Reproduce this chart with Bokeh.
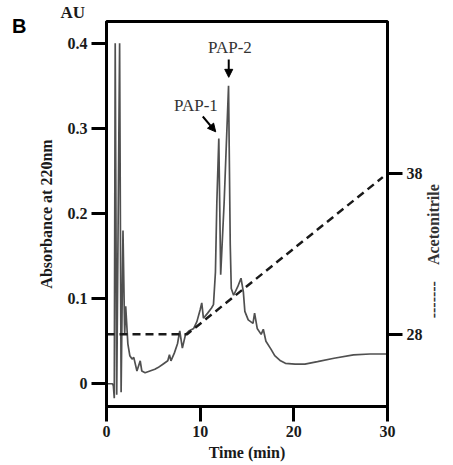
import math
from bokeh.plotting import figure
from bokeh.models import Range1d, LinearAxis, FixedTicker, Label, Arrow, NormalHead
from bokeh.embed import file_html
from bokeh.resources import INLINE

# ---- data ----
time_min = [0.0, 0.62, 0.73, 0.83, 0.93, 1.09, 1.40, 1.56, 1.76, 1.94, 2.05, 2.28, 2.49,
            2.73, 2.91, 3.25, 3.60, 3.77, 4.12, 4.64, 5.16, 5.50, 6.02, 6.54, 6.72, 6.88,
            7.24, 7.58, 7.82, 8.10, 8.44, 8.79, 9.31, 9.65, 10.00, 10.17, 10.35, 10.80,
            11.21, 11.42, 11.63, 11.78, 11.99, 12.19, 12.56, 13.03, 13.21, 13.32, 13.57,
            14.01, 14.36, 14.61, 14.77, 15.13, 15.64, 15.81, 16.09, 16.51, 16.74, 17.02,
            17.54, 17.96, 18.58, 19.10, 20.14, 21.18, 22.53, 24.29, 26.37, 28.13, 30.0]
absorbance_au = [0.0, 0.0, -0.002, -0.017, 0.40, -0.013, 0.40, -0.010, 0.18, 0.058, 0.091,
                 0.047, 0.033, 0.029, 0.031, 0.015, 0.027, 0.015, 0.013, 0.015, 0.017,
                 0.019, 0.023, 0.027, 0.034, 0.027, 0.036, 0.047, 0.062, 0.042, 0.058,
                 0.062, 0.065, 0.073, 0.087, 0.095, 0.077, 0.083, 0.089, 0.093, 0.131,
                 0.213, 0.288, 0.128, 0.213, 0.350, 0.164, 0.112, 0.104, 0.114, 0.124,
                 0.108, 0.085, 0.075, 0.071, 0.083, 0.065, 0.058, 0.064, 0.050, 0.041,
                 0.033, 0.027, 0.024, 0.023, 0.023, 0.026, 0.030, 0.034, 0.035, 0.035]
gradient_time = [0.0, 8.6, 29.5]
acetonitrile_pct = [28, 28, 37.8]
x_ticks = [0, 10, 20, 30]
y_ticks = [0, 0.1, 0.2, 0.3, 0.4]
acn_ticks = [28, 38]
panel_letter = "B"
absorbance_unit = "AU"
acn_title = "-------\u00a0\u00a0\u00a0\u00a0Acetonitrile"

SERIF = "Liberation Serif"

p = figure(width=453, height=464, output_backend="svg", toolbar_location=None,
           x_range=Range1d(0, 30), y_range=Range1d(-0.0267, 0.4256),
           min_border_left=106, min_border_right=55, min_border_top=17, min_border_bottom=58)
p.extra_y_ranges = {"acn": Range1d(23.49, 47.51)}
p.grid.visible = False
p.outline_line_color = "black"
p.outline_line_width = 3
p.background_fill_color = "white"
p.border_fill_color = "white"

# unit label above the absorbance axis, as the plot title shifted to the left
p.title.text = absorbance_unit
p.title.align = "left"
p.title.offset = -46
p.title.standoff = 0
p.title.text_font = SERIF
p.title.text_font_size = "17px"
p.title.text_font_style = "bold"
p.title.text_color = "#1a1a1a"

p.line(time_min, absorbance_au, line_color="#505050", line_width=1.7)
p.line(gradient_time, acetonitrile_pct, y_range_name="acn", line_color="#1a1a1a",
       line_width=2.5, line_dash="8 5")

left_ax = p.left[0]
bottom_ax = p.below[0]
right_ax = LinearAxis(y_range_name="acn", ticker=FixedTicker(ticks=acn_ticks))
p.add_layout(right_ax, "right")

bottom_ax.ticker = FixedTicker(ticks=x_ticks)
left_ax.ticker = FixedTicker(ticks=y_ticks)
left_ax.major_label_overrides = {0: "0"}

for ax in [bottom_ax, left_ax, right_ax]:
    ax.axis_line_width = 3
    ax.axis_line_color = "black"
    ax.major_tick_line_width = 3
    ax.major_tick_line_color = "black"
    ax.major_tick_out = 15
    ax.major_tick_in = 0
    ax.minor_tick_line_color = None
    ax.major_label_text_font = SERIF
    ax.major_label_text_font_style = "bold"
    ax.major_label_text_font_size = "16px"
    ax.major_label_text_color = "#1a1a1a"
    ax.major_label_standoff = 4
    ax.axis_label_text_font = SERIF
    ax.axis_label_text_font_style = "bold"
    ax.axis_label_text_font_size = "16px"
    ax.axis_label_text_color = "#1a1a1a"

bottom_ax.axis_label = "Time (min)"
bottom_ax.axis_label_standoff = 4
left_ax.axis_label = "Absorbance at 220nm"
left_ax.axis_label_standoff = 10


def text_axis(tick, text, font, size, standoff, **kw):
    """An axis with no line and no tick mark that only carries one text."""
    ax = LinearAxis(ticker=FixedTicker(ticks=[tick]), **kw)
    ax.major_label_overrides = {tick: text}
    ax.axis_line_color = None
    ax.major_tick_line_color = None
    ax.minor_tick_line_color = None
    ax.major_tick_out = 0
    ax.major_tick_in = 0
    ax.minor_tick_out = 0
    ax.major_label_text_font = font
    ax.major_label_text_font_size = size
    ax.major_label_text_font_style = "bold"
    ax.major_label_standoff = standoff
    return ax

# panel letter, outside the absorbance axis
b_ax = text_axis(0.4198, panel_letter, "Liberation Sans", "20px", 8)
b_ax.major_label_text_color = "black"
p.add_layout(b_ax, "left")

# acetonitrile title beside the gradient axis, reading bottom to top
acn_ax = text_axis(28.99, acn_title, SERIF, "16px", 8, y_range_name="acn")
acn_ax.major_label_orientation = math.pi / 2
acn_ax.major_label_text_color = "#333333"
p.add_layout(acn_ax, "right")


def lab(x, y, text, size="17px", style="normal", color="#333333"):
    p.add_layout(Label(x=x, y=y, text=text, text_font=SERIF, text_font_size=size,
                       text_font_style=style, text_align="center", text_baseline="middle",
                       text_color=color))

lab(9.55, 0.327, "PAP-1")
lab(13.18, 0.395, "PAP-2")

for xs, ys, xe, ye in [(10.28, 0.314, 11.66, 0.296), (13.05, 0.381, 13.05, 0.360)]:
    p.add_layout(Arrow(end=NormalHead(size=8, fill_color="black", line_color="black"),
                       x_start=xs, y_start=ys, x_end=xe, y_end=ye,
                       line_width=2, line_color="black"))

open("out.html", "w").write(file_html(p, INLINE))
